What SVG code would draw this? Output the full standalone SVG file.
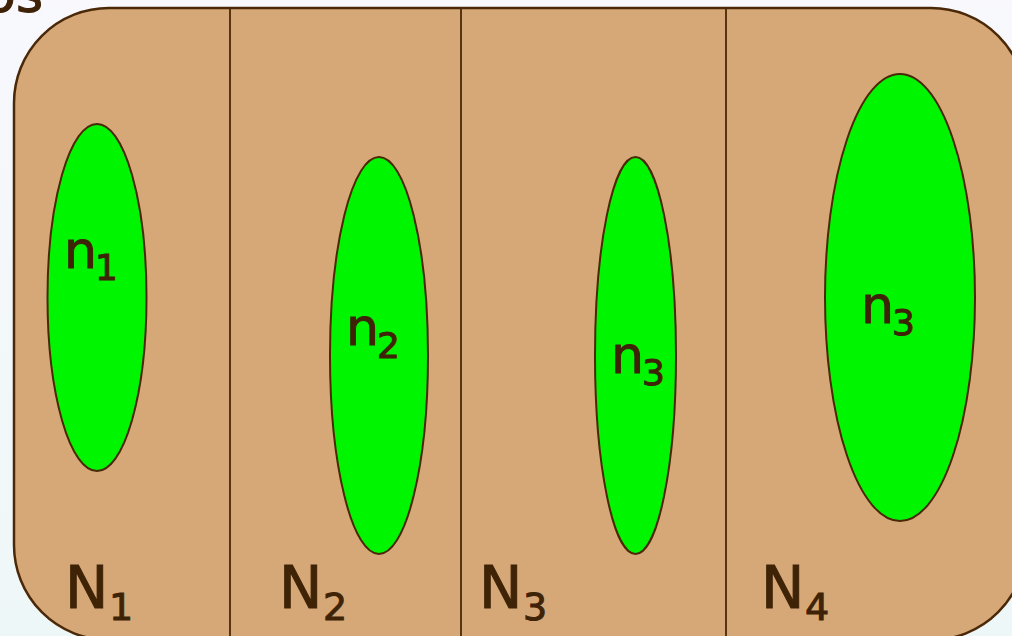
<svg xmlns="http://www.w3.org/2000/svg" width="1012" height="636" viewBox="0 0 1012 636">
<defs>
<linearGradient id="bg" x1="0" y1="0" x2="0" y2="1">
<stop offset="0" stop-color="#f8f8fd"/>
<stop offset="1" stop-color="#eef7f8"/>
</linearGradient>
<style>
.frame{fill:#d6a877;stroke:#4a2808;stroke-width:2.5}
.div{stroke:#4a2808;stroke-width:1.8}
.cell{fill:#00f500;stroke:#4a2808;stroke-width:2}
text{font-family:"DejaVu Sans","Liberation Sans",sans-serif;fill:#3f2306;stroke:#3f2306;stroke-width:1}
.n{font-size:52px}
.ns{font-size:36px}
.N{font-size:58px}
.Ns{font-size:38px}
</style>
</defs>
<rect width="1012" height="636" fill="url(#bg)"/>
<text x="43" y="12" text-anchor="end" style="font-size:52px">os</text>
<g id="frame">
<rect class="frame" x="14" y="8" width="1012" height="632" rx="95" ry="95"/>
</g>
<g id="connectors">
<line class="div" x1="230" y1="8" x2="230" y2="636"/>
<line class="div" x1="461" y1="8" x2="461" y2="636"/>
<line class="div" x1="726" y1="8" x2="726" y2="636"/>
</g>
<g id="node-n1">
<ellipse class="cell" cx="97" cy="297.5" rx="49.5" ry="173.5"/>
<text class="n" x="64" y="268">n</text><text class="ns" x="95" y="280">1</text>
</g>
<g id="node-n2">
<ellipse class="cell" cx="379" cy="355.5" rx="49" ry="198.5"/>
<text class="n" x="346" y="345">n</text><text class="ns" x="377" y="358">2</text>
</g>
<g id="node-n3a">
<ellipse class="cell" cx="635.5" cy="355.5" rx="40.5" ry="198.5"/>
<text class="n" x="611" y="373">n</text><text class="ns" x="642" y="385">3</text>
</g>
<g id="node-n3b">
<ellipse class="cell" cx="900" cy="297.5" rx="75" ry="223.5"/>
<text class="n" x="861" y="323">n</text><text class="ns" x="892" y="335">3</text>
</g>
<g id="label-N1"><text class="N" x="65" y="608">N</text><text class="Ns" x="109" y="620">1</text></g>
<g id="label-N2"><text class="N" x="279" y="608">N</text><text class="Ns" x="323" y="620">2</text></g>
<g id="label-N3"><text class="N" x="479" y="608">N</text><text class="Ns" x="523" y="620">3</text></g>
<g id="label-N4"><text class="N" x="761" y="608">N</text><text class="Ns" x="805" y="620">4</text></g>
</svg>
